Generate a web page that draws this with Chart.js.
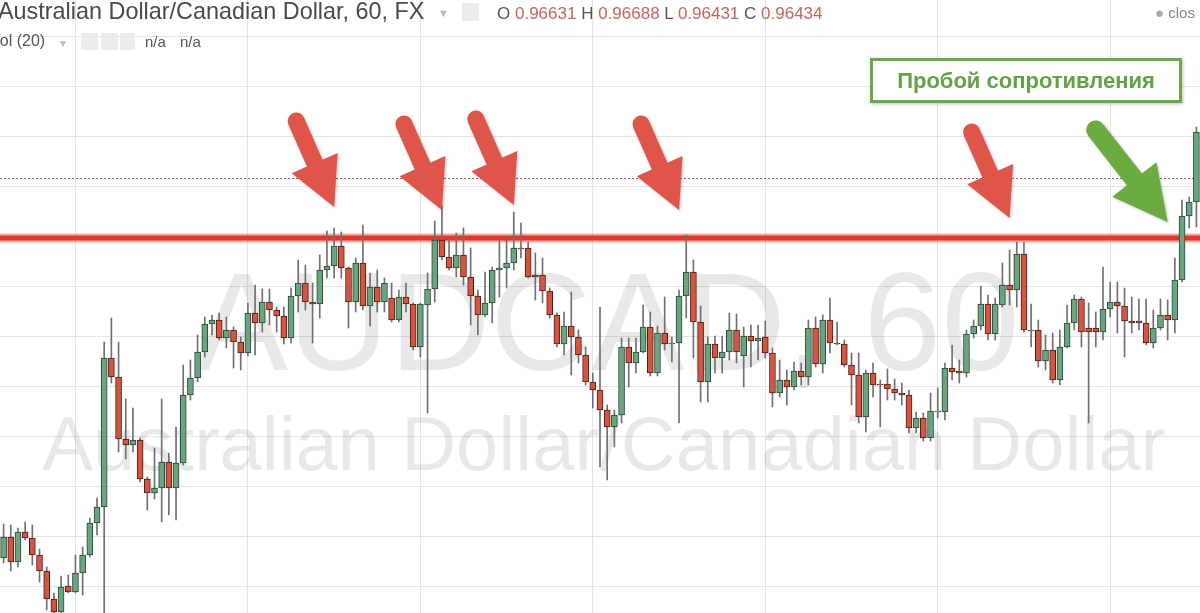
<!DOCTYPE html>
<html>
<head>
<meta charset="utf-8">
<script src="https://cdn.jsdelivr.net/npm/chart.js@4.4.0/dist/chart.umd.min.js"></script>
<style>
  body { margin: 0; background: #fff; overflow: hidden; }
  #wrap { position: relative; width: 1200px; height: 613px; font-family: Arial, "Liberation Sans", sans-serif; }
  #chart { position: absolute; left: 0; top: 0; }
  .t { position: absolute; white-space: nowrap; }
  .ico { position: absolute; background: #ececec; }
  .num { color: #c2675b; }
  #note {
    position: absolute; left: 870px; top: 58px; width: 306px; height: 39px;
    border: 3px solid #6aa84f; background: #fff; color: #62a346;
    font-weight: bold; font-size: 22px; line-height: 39px; text-align: center;
    box-shadow: 1px 1px 3px rgba(0,0,0,0.25);
  }
</style>
</head>
<body>
<div id="wrap">
  <canvas id="chart" width="1200" height="613"></canvas>

  <div class="t" style="left:-2px;top:-2px;font-size:23.4px;color:#4a4a4a">Australian Dollar/Canadian Dollar, 60, FX</div>
  <div class="t" style="left:438px;top:7px;font-size:11px;color:#bbb">&#9660;</div>
  <div class="ico" style="left:462px;top:3px;width:17px;height:18px"></div>
  <div class="t" style="left:497px;top:4px;font-size:17px;color:#555">
    O <span class="num">0.96631</span> H <span class="num">0.96688</span> L <span class="num">0.96431</span> C <span class="num">0.96434</span>
  </div>
  <div class="t" style="left:1155px;top:4px;font-size:15px;color:#888"><span style="color:#aaa">&#9679;</span> clos</div>

  <div class="t" style="left:-10px;top:32px;font-size:16px;color:#555">Vol (20)</div>
  <div class="t" style="left:58px;top:38px;font-size:10px;color:#bbb">&#9660;</div>
  <div class="ico" style="left:81px;top:33px;width:17px;height:17px"></div>
  <div class="ico" style="left:101px;top:33px;width:17px;height:17px"></div>
  <div class="ico" style="left:120px;top:33px;width:15px;height:17px"></div>
  <div class="t" style="left:145px;top:33px;font-size:15px;color:#555">n/a</div>
  <div class="t" style="left:180px;top:33px;font-size:15px;color:#555">n/a</div>

  <div id="note">Пробой сопротивления</div>
</div>

<script>
const opens = [
  0.96058, 0.96100, 0.96050, 0.96110, 0.96098, 0.96064, 0.96032, 0.95976, 0.95950, 0.96002,
  0.95990, 0.96028, 0.96064, 0.96128, 0.96160, 0.96458, 0.96420, 0.96296, 0.96284, 0.96294,
  0.96216, 0.96188, 0.96198, 0.96250, 0.96198, 0.96248, 0.96384, 0.96418, 0.96470, 0.96526,
  0.96534, 0.96498, 0.96514, 0.96490, 0.96468, 0.96548, 0.96528, 0.96570, 0.96554, 0.96542,
  0.96498, 0.96582, 0.96608, 0.96570, 0.96566, 0.96634, 0.96642, 0.96682, 0.96638, 0.96570,
  0.96648, 0.96562, 0.96600, 0.96570, 0.96578, 0.96534, 0.96580, 0.96566, 0.96480, 0.96564,
  0.96596, 0.96694, 0.96660, 0.96638, 0.96664, 0.96620, 0.96582, 0.96544, 0.96568, 0.96634,
  0.96638, 0.96648, 0.96678, 0.96678, 0.96624, 0.96624, 0.96592, 0.96544, 0.96486, 0.96522,
  0.96500, 0.96464, 0.96410, 0.96394, 0.96354, 0.96320, 0.96344, 0.96480, 0.96448, 0.96470,
  0.96520, 0.96428, 0.96508, 0.96486, 0.96488, 0.96582, 0.96630, 0.96530, 0.96410, 0.96486,
  0.96458, 0.96470, 0.96514, 0.96462, 0.96502, 0.96492, 0.96500, 0.96468, 0.96388, 0.96414,
  0.96400, 0.96432, 0.96420, 0.96518, 0.96446, 0.96534, 0.96488, 0.96486, 0.96444, 0.96424,
  0.96340, 0.96428, 0.96406, 0.96406, 0.96396, 0.96388, 0.96384, 0.96318, 0.96338, 0.96298,
  0.96350, 0.96350, 0.96438, 0.96432, 0.96428, 0.96506, 0.96522, 0.96566, 0.96506, 0.96564,
  0.96604, 0.96594, 0.96666, 0.96514, 0.96514, 0.96452, 0.96474, 0.96414, 0.96480, 0.96528,
  0.96576, 0.96518, 0.96518, 0.96510, 0.96556, 0.96570, 0.96562, 0.96532, 0.96532, 0.96528,
  0.96488, 0.96518, 0.96544, 0.96534, 0.96614, 0.96742, 0.96770
];
const highs = [
  0.96126, 0.96124, 0.96118, 0.96130, 0.96124, 0.96076, 0.96040, 0.95988, 0.96022, 0.96024,
  0.96064, 0.96080, 0.96138, 0.96178, 0.96490, 0.96538, 0.96490, 0.96376, 0.96358, 0.96298,
  0.96220, 0.96278, 0.96376, 0.96268, 0.96320, 0.96444, 0.96454, 0.96504, 0.96540, 0.96544,
  0.96548, 0.96540, 0.96520, 0.96500, 0.96568, 0.96604, 0.96596, 0.96596, 0.96560, 0.96560,
  0.96598, 0.96654, 0.96644, 0.96608, 0.96664, 0.96712, 0.96718, 0.96710, 0.96640, 0.96658,
  0.96724, 0.96628, 0.96634, 0.96618, 0.96608, 0.96594, 0.96608, 0.96568, 0.96568, 0.96628,
  0.96732, 0.96764, 0.96694, 0.96708, 0.96718, 0.96678, 0.96594, 0.96630, 0.96640, 0.96694,
  0.96700, 0.96750, 0.96728, 0.96690, 0.96668, 0.96658, 0.96598, 0.96548, 0.96550, 0.96590,
  0.96514, 0.96480, 0.96428, 0.96560, 0.96364, 0.96354, 0.96498, 0.96498, 0.96498, 0.96564,
  0.96550, 0.96522, 0.96580, 0.96500, 0.96594, 0.96704, 0.96654, 0.96562, 0.96500, 0.96502,
  0.96502, 0.96548, 0.96546, 0.96520, 0.96524, 0.96524, 0.96532, 0.96478, 0.96454, 0.96434,
  0.96450, 0.96448, 0.96534, 0.96540, 0.96544, 0.96578, 0.96530, 0.96494, 0.96468, 0.96468,
  0.96434, 0.96448, 0.96414, 0.96436, 0.96416, 0.96408, 0.96394, 0.96350, 0.96348, 0.96388,
  0.96398, 0.96448, 0.96484, 0.96454, 0.96514, 0.96534, 0.96602, 0.96584, 0.96578, 0.96648,
  0.96674, 0.96690, 0.96690, 0.96566, 0.96534, 0.96504, 0.96508, 0.96514, 0.96564, 0.96584,
  0.96580, 0.96568, 0.96550, 0.96640, 0.96610, 0.96610, 0.96598, 0.96580, 0.96576, 0.96576,
  0.96554, 0.96576, 0.96574, 0.96658, 0.96774, 0.96780, 0.96920
];
const lows = [
  0.96048, 0.96032, 0.96040, 0.96094, 0.96044, 0.96010, 0.95954, 0.95934, 0.95938, 0.95988,
  0.95988, 0.95984, 0.96060, 0.96104, 0.95934, 0.96408, 0.96270, 0.96256, 0.96270, 0.96210,
  0.96154, 0.96176, 0.96130, 0.96144, 0.96134, 0.96244, 0.96374, 0.96410, 0.96460, 0.96504,
  0.96494, 0.96478, 0.96438, 0.96434, 0.96462, 0.96464, 0.96510, 0.96524, 0.96510, 0.96486,
  0.96488, 0.96550, 0.96554, 0.96488, 0.96538, 0.96618, 0.96618, 0.96618, 0.96518, 0.96550,
  0.96554, 0.96522, 0.96550, 0.96550, 0.96530, 0.96530, 0.96550, 0.96474, 0.96460, 0.96348,
  0.96570, 0.96654, 0.96634, 0.96620, 0.96604, 0.96524, 0.96504, 0.96540, 0.96528, 0.96580,
  0.96598, 0.96634, 0.96658, 0.96618, 0.96574, 0.96568, 0.96538, 0.96480, 0.96464, 0.96424,
  0.96448, 0.96404, 0.96358, 0.96240, 0.96214, 0.96280, 0.96328, 0.96400, 0.96428, 0.96468,
  0.96422, 0.96422, 0.96474, 0.96450, 0.96328, 0.96538, 0.96458, 0.96370, 0.96370, 0.96428,
  0.96428, 0.96454, 0.96448, 0.96400, 0.96440, 0.96454, 0.96458, 0.96360, 0.96380, 0.96364,
  0.96394, 0.96404, 0.96404, 0.96440, 0.96428, 0.96468, 0.96484, 0.96440, 0.96364, 0.96328,
  0.96310, 0.96380, 0.96320, 0.96374, 0.96374, 0.96364, 0.96308, 0.96308, 0.96292, 0.96292,
  0.96338, 0.96334, 0.96414, 0.96408, 0.96420, 0.96498, 0.96514, 0.96494, 0.96494, 0.96560,
  0.96564, 0.96560, 0.96510, 0.96480, 0.96440, 0.96434, 0.96408, 0.96404, 0.96478, 0.96514,
  0.96480, 0.96328, 0.96480, 0.96494, 0.96540, 0.96508, 0.96460, 0.96508, 0.96514, 0.96484,
  0.96478, 0.96514, 0.96494, 0.96508, 0.96610, 0.96718, 0.96720
];
const closes = [
  0.96100, 0.96050, 0.96110, 0.96098, 0.96064, 0.96032, 0.95976, 0.95950, 0.96000, 0.95990,
  0.96028, 0.96064, 0.96128, 0.96160, 0.96458, 0.96420, 0.96296, 0.96284, 0.96294, 0.96216,
  0.96188, 0.96198, 0.96250, 0.96198, 0.96248, 0.96384, 0.96418, 0.96470, 0.96526, 0.96534,
  0.96498, 0.96514, 0.96490, 0.96468, 0.96548, 0.96528, 0.96570, 0.96554, 0.96542, 0.96498,
  0.96582, 0.96608, 0.96570, 0.96566, 0.96634, 0.96642, 0.96682, 0.96638, 0.96570, 0.96648,
  0.96562, 0.96600, 0.96570, 0.96608, 0.96534, 0.96580, 0.96566, 0.96480, 0.96566, 0.96596,
  0.96694, 0.96660, 0.96638, 0.96664, 0.96620, 0.96582, 0.96544, 0.96568, 0.96634, 0.96638,
  0.96648, 0.96678, 0.96676, 0.96620, 0.96620, 0.96592, 0.96544, 0.96486, 0.96522, 0.96500,
  0.96464, 0.96410, 0.96394, 0.96354, 0.96320, 0.96344, 0.96480, 0.96448, 0.96470, 0.96520,
  0.96428, 0.96508, 0.96486, 0.96488, 0.96582, 0.96630, 0.96530, 0.96410, 0.96486, 0.96458,
  0.96470, 0.96514, 0.96470, 0.96502, 0.96492, 0.96498, 0.96468, 0.96388, 0.96414, 0.96400,
  0.96432, 0.96420, 0.96518, 0.96446, 0.96534, 0.96488, 0.96486, 0.96444, 0.96424, 0.96340,
  0.96428, 0.96404, 0.96404, 0.96396, 0.96388, 0.96384, 0.96318, 0.96338, 0.96298, 0.96352,
  0.96352, 0.96438, 0.96430, 0.96428, 0.96506, 0.96522, 0.96566, 0.96506, 0.96566, 0.96604,
  0.96594, 0.96666, 0.96514, 0.96512, 0.96452, 0.96474, 0.96414, 0.96480, 0.96528, 0.96576,
  0.96510, 0.96510, 0.96510, 0.96556, 0.96570, 0.96562, 0.96532, 0.96528, 0.96528, 0.96488,
  0.96518, 0.96544, 0.96534, 0.96614, 0.96742, 0.96770, 0.96910
];
const labels = opens.map((_, i) => String(i + 1));

// levels drawn on the chart
const resistance = 0.96698;
const lastPriceLine = 0.96818;

// arrows: [candle index of tip, tip price]
const redArrows = [[46, 0.96760], [61, 0.96754], [71, 0.96764], [94, 0.96754], [140, 0.96738]];
const greenArrow = [162, 0.96730];

const greenFill = "#6ca480", redFill = "#d45641";

function drawArrow(ctx, x1, y1, dx, dy, color, shaft, headW, headL) {
  const x0 = x1 + dx, y0 = y1 + dy;
  const len = Math.hypot(x1 - x0, y1 - y0);
  const ang = Math.atan2(y1 - y0, x1 - x0);
  ctx.save();
  ctx.translate(x0, y0);
  ctx.rotate(ang);
  ctx.shadowColor = "rgba(0,0,0,0.25)";
  ctx.shadowBlur = 3;
  ctx.shadowOffsetX = 1;
  ctx.shadowOffsetY = 1;
  ctx.fillStyle = color;
  ctx.beginPath();
  ctx.moveTo(0, -shaft / 2);
  ctx.lineTo(len - headL, -shaft / 2);
  ctx.lineTo(len - headL, -headW / 2);
  ctx.lineTo(len, 0);
  ctx.lineTo(len - headL, headW / 2);
  ctx.lineTo(len - headL, shaft / 2);
  ctx.lineTo(0, shaft / 2);
  ctx.arc(0, 0, shaft / 2, Math.PI / 2, -Math.PI / 2);
  ctx.closePath();
  ctx.fill();
  ctx.restore();
}

const overlay = {
  id: "overlay",
  beforeDatasetsDraw(chart) {
    const { ctx, scales } = chart;
    ctx.save();
    ctx.fillStyle = "rgba(0,0,0,0.09)";
    ctx.textAlign = "center";
    ctx.font = "140px Arial, 'Liberation Sans'";
    ctx.fillText("AUDCAD, 60", 607, 370);
    ctx.font = "76px Arial, 'Liberation Sans'";
    ctx.fillText("Australian Dollar/Canadian Dollar", 604, 470);

    const yd = Math.round(scales.y.getPixelForValue(lastPriceLine)) + 0.5;
    ctx.strokeStyle = "#c0504d";
    ctx.lineWidth = 1;
    ctx.setLineDash([2, 2]);
    ctx.beginPath();
    ctx.moveTo(0, yd);
    ctx.lineTo(chart.width, yd);
    ctx.stroke();
    ctx.setLineDash([]);

    const yr = scales.y.getPixelForValue(resistance);
    ctx.strokeStyle = "rgba(232,70,60,0.45)";
    ctx.lineWidth = 9;
    ctx.beginPath();
    ctx.moveTo(0, yr);
    ctx.lineTo(chart.width, yr);
    ctx.stroke();
    ctx.strokeStyle = "#e2382c";
    ctx.lineWidth = 5;
    ctx.beginPath();
    ctx.moveTo(0, yr);
    ctx.lineTo(chart.width, yr);
    ctx.stroke();
    ctx.restore();
  },
  afterDatasetsDraw(chart) {
    const { ctx, scales } = chart;
    redArrows.forEach(([i, p]) => {
      drawArrow(ctx, scales.x.getPixelForValue(i), scales.y.getPixelForValue(p), -38, -86, "#df5549", 17, 50, 48);
    });
    drawArrow(ctx, scales.x.getPixelForValue(greenArrow[0]), scales.y.getPixelForValue(greenArrow[1]), -72, -92, "#6cab3f", 19, 56, 54);
  }
};

new Chart(document.getElementById("chart"), {
  type: "bar",
  data: {
    labels,
    datasets: [
      {
        label: "wick",
        data: lows.map((l, i) => [l, highs[i]]),
        backgroundColor: "#707070",
        barThickness: 1,
        grouped: false,
        order: 2
      },
      {
        label: "body",
        data: opens.map((o, i) => [o, closes[i]]),
        backgroundColor: opens.map((o, i) => closes[i] >= o ? greenFill : redFill),
        borderColor: opens.map((o, i) => closes[i] >= o ? "#264a34" : "#4e1c14"),
        borderWidth: 1,
        borderSkipped: false,
        barThickness: 6,
        grouped: false,
        order: 1
      }
    ]
  },
  options: {
    responsive: false,
    animation: false,
    layout: { padding: 0 },
    plugins: { legend: { display: false }, tooltip: { enabled: false } },
    scales: {
      x: {
        offset: true,
        border: { display: false },
        ticks: { display: false, autoSkip: false },
        grid: {
          offset: false,
          drawTicks: false,
          color: ctx => (ctx.index % 24 === 10 ? "#e4e4e4" : "rgba(0,0,0,0)")
        }
      },
      y: {
        min: 0.95948,
        max: 0.97174,
        border: { display: false },
        ticks: { display: false, stepSize: 0.0005, maxTicksLimit: 40 },
        grid: {
          drawTicks: false,
          color: ctx => {
            const v = ctx.tick.value * 1000;
            return Math.abs(v - Math.round(v)) < 1e-6 ? "#e4e4e4" : "rgba(0,0,0,0)";
          }
        }
      }
    }
  },
  plugins: [overlay]
});
</script>
</body>
</html>
